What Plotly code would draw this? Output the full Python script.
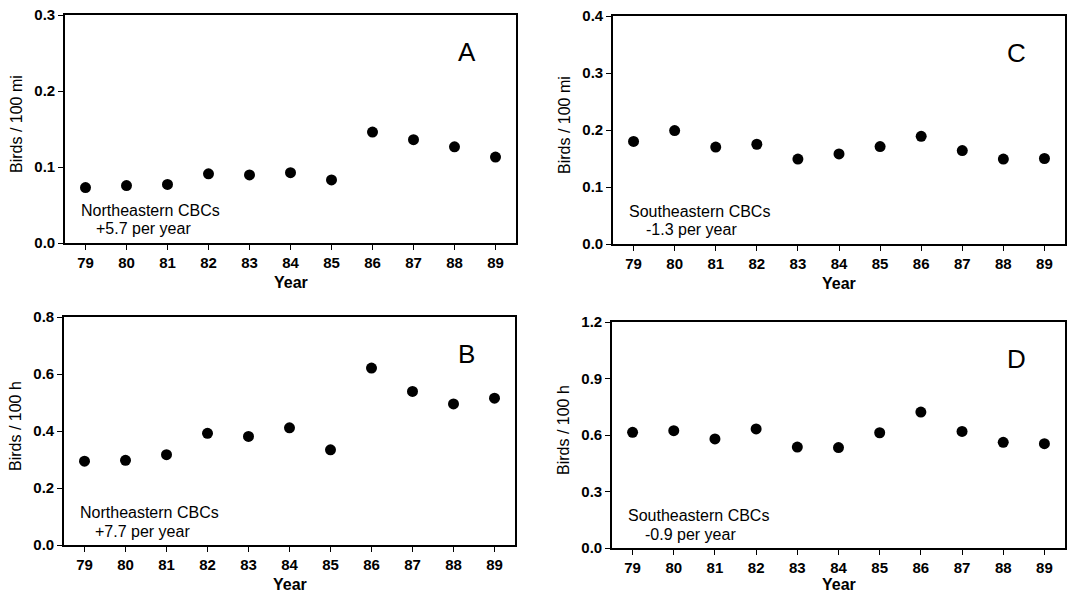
import plotly.graph_objects as go

W, H = 1067, 595

years = [79, 80, 81, 82, 83, 84, 85, 86, 87, 88, 89]
tick_labels = [str(y) for y in years]

ne_per_mile = [0.073, 0.0755, 0.077, 0.091, 0.0895, 0.0925, 0.083, 0.146, 0.136, 0.1265, 0.113]
ne_per_hour = [0.294, 0.297, 0.317, 0.392, 0.381, 0.411, 0.334, 0.621, 0.539, 0.495, 0.515]
se_per_mile = [0.180, 0.199, 0.170, 0.175, 0.149, 0.158, 0.171, 0.189, 0.164, 0.149, 0.150]
se_per_hour = [0.614, 0.623, 0.579, 0.632, 0.536, 0.533, 0.612, 0.722, 0.619, 0.561, 0.554]

panel_letters = ["A", "B", "C", "D"]
region_labels = ["Northeastern CBCs", "Northeastern CBCs", "Southeastern CBCs", "Southeastern CBCs"]
trend_labels = ["+5.7 per year", "+7.7 per year", "-1.3 per year", "-0.9 per year"]
y_titles = ["Birds / 100 mi", "Birds / 100 h", "Birds / 100 mi", "Birds / 100 h"]
y_ranges = [[0, 0.3], [0, 0.8], [0, 0.4], [0, 1.2]]
y_dticks = [0.1, 0.2, 0.1, 0.3]
series = [ne_per_mile, ne_per_hour, se_per_mile, se_per_hour]

# pixel boxes in the picture (left, right, top, bottom) for panels A, B, C, D
boxes = [(65, 516, 15, 243), (64, 515, 317, 545), (613, 1065, 16, 244), (612, 1065, 322, 548)]

FONT = "Liberation Sans, Arial, Helvetica, sans-serif"

def px(x):
    return x / W

def py(y):
    return 1 - y / H

fig = go.Figure()
annotations = []
layout = {}
for i, (vals, box) in enumerate(zip(series, boxes)):
    l, r, t, b = box
    n = "" if i == 0 else str(i + 1)
    xa, ya = "xaxis" + n, "yaxis" + n
    fig.add_trace(go.Scatter(
        x=years, y=vals, mode="markers",
        marker=dict(color="black", size=11, line=dict(width=0)),
        xaxis="x" + n, yaxis="y" + n, showlegend=False, hoverinfo="x+y"))
    common = dict(showline=True, linecolor="black", linewidth=1.6, mirror=True,
                  ticks="outside", ticklen=5, tickwidth=1.4, tickcolor="black",
                  showgrid=False, zeroline=False, automargin=False,
                  tickfont=dict(family=FONT, size=15, color="black", weight="bold"))
    layout[xa] = dict(common, domain=[px(l), px(r)], range=[78.5, 89.5],
                      tickmode="array", tickvals=years, ticktext=tick_labels,
                      anchor="y" + n)
    layout[ya] = dict(common, domain=[py(b), py(t)], range=y_ranges[i],
                      dtick=y_dticks[i], tick0=0, tickformat=".1f",
                      anchor="x" + n)
    # axis titles
    annotations.append(dict(text="Year", x=px((l + r) / 2), y=py(min(b + 39, 584)),
                            xref="paper", yref="paper", showarrow=False,
                            xanchor="center", yanchor="middle",
                            font=dict(family=FONT, size=16, color="black", weight="bold")))
    annotations.append(dict(text=y_titles[i], x=px(l - 49), y=py((t + b) / 2 - 5),
                            xref="paper", yref="paper", showarrow=False, textangle=-90,
                            xanchor="center", yanchor="middle",
                            font=dict(family=FONT, size=16, color="black")))
    # panel letter
    annotations.append(dict(text=panel_letters[i], x=px(r - 49), y=py(t + 37),
                            xref="paper", yref="paper", showarrow=False,
                            xanchor="center", yanchor="middle",
                            font=dict(family=FONT, size=26, color="black")))
    # region / trend text
    annotations.append(dict(text=region_labels[i], x=px(l + 14), y=py(b - 33),
                            xref="paper", yref="paper", showarrow=False,
                            xanchor="left", yanchor="middle",
                            font=dict(family=FONT, size=16, color="black")))
    indent = 29 if i < 2 else 31
    annotations.append(dict(text=trend_labels[i], x=px(l + indent), y=py(b - 14),
                            xref="paper", yref="paper", showarrow=False,
                            xanchor="left", yanchor="middle",
                            font=dict(family=FONT, size=16, color="black")))

fig.update_layout(width=W, height=H, margin=dict(l=0, r=0, t=0, b=0, autoexpand=False),
                  paper_bgcolor="white", plot_bgcolor="white",
                  annotations=annotations, **layout)
fig.write_html("out.html",
               config={"displayModeBar": False},
               post_script="document.body.style.margin='0';document.body.style.overflow='hidden';")
